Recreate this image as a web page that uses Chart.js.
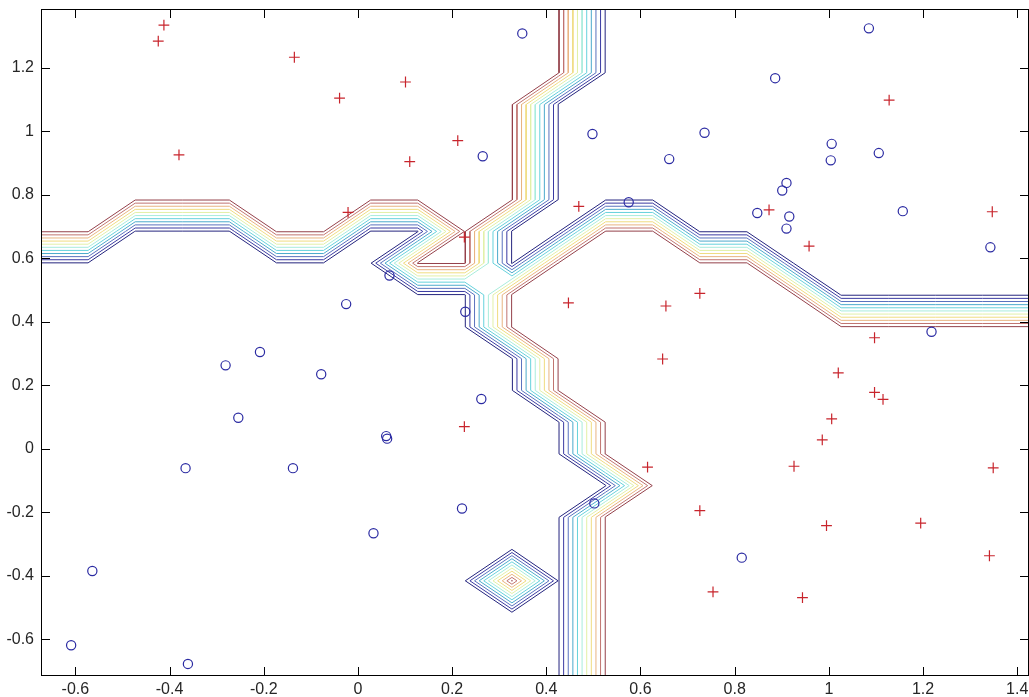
<!DOCTYPE html>
<html>
<head>
<meta charset="utf-8">
<script src="https://cdn.jsdelivr.net/npm/chart.js@4.4.1/dist/chart.umd.min.js"></script>
<style>
  html, body { margin: 0; padding: 0; background: #ffffff; }
  canvas { display: block; }
</style>
</head>
<body>
<canvas id="c" width="1029" height="697"></canvas>
<script>
// ---- axis ticks ----
const xTicks = [-0.6, -0.4, -0.2, 0, 0.2, 0.4, 0.6, 0.8, 1, 1.2, 1.4];
const xTickLabels = ['-0.6', '-0.4', '-0.2', '0', '0.2', '0.4', '0.6', '0.8', '1', '1.2', '1.4'];
const yTicks = [-0.6, -0.4, -0.2, 0, 0.2, 0.4, 0.6, 0.8, 1, 1.2];
const yTickLabels = ['-0.6', '-0.4', '-0.2', '0', '0.2', '0.4', '0.6', '0.8', '1', '1.2'];

// ---- class "+" samples ----
const plusX = [-0.412, -0.424, -0.135, -0.039, -0.380, -0.021, 0.101, 0.212, 0.110, 0.469,
               0.226, 1.128, 0.873, 1.347, 0.958, 0.726, 1.097, 1.020, 1.097, 1.115,
               1.006, 0.986, 0.926, 1.349, 0.447, 0.654, 0.647, 0.226, 0.615, 0.726,
               0.995, 1.195, 1.341, 0.754, 0.944];
const plusY = [1.335, 1.285, 1.234, 1.105, 0.926, 0.745, 1.156, 0.971, 0.905, 0.764,
               0.667, 1.099, 0.753, 0.747, 0.639, 0.490, 0.350, 0.239, 0.178, 0.156,
               0.094, 0.028, -0.055, -0.060, 0.460, 0.450, 0.283, 0.070, -0.058, -0.195,
               -0.242, -0.234, -0.337, -0.451, -0.469];

// ---- class "o" samples ----
const circX = [0.349, 0.265, 0.498, 0.661, 0.575, 1.085, 0.886, 0.736, 1.006, 1.004,
               1.106, 0.910, 0.901, 0.848, 0.916, 0.910, 1.157, 1.343, 1.218, 0.067,
               -0.025, 0.228, 0.262, 0.060, 0.062, -0.281, -0.208, -0.078, -0.254, -0.366,
               -0.138, -0.564, -0.609, -0.361, 0.221, 0.033, 0.502, 0.815];
const circY = [1.309, 0.922, 0.992, 0.913, 0.777, 1.325, 1.168, 0.996, 0.961, 0.909,
               0.932, 0.838, 0.814, 0.743, 0.732, 0.694, 0.749, 0.635, 0.369, 0.546,
               0.456, 0.432, 0.157, 0.040, 0.032, 0.263, 0.305, 0.235, 0.098, -0.061,
               -0.061, -0.385, -0.619, -0.678, -0.188, -0.266, -0.172, -0.343];

// ---- classifier output sampled on the evaluation grid ----
const gridX = [-0.673, -0.573, -0.473, -0.373, -0.273, -0.173, -0.073, 0.027, 0.127, 0.227, 0.327,
               0.426, 0.526, 0.626, 0.726, 0.826, 0.926, 1.026, 1.126, 1.226, 1.326, 1.425];
const gridY = [-0.716, -0.616, -0.516, -0.416, -0.316, -0.216, -0.116, -0.016, 0.084, 0.184, 0.284,
               0.384, 0.485, 0.585, 0.685, 0.785, 0.885, 0.985, 1.085, 1.185, 1.285, 1.386];
// one string per grid row, bottom row first; 1 = "+" class, 0 = "o" class
const gridRows = [
  '0000000000001111111111',
  '0000000000001111111111',
  '0000000000001111111111',
  '0000000000101111111111',
  '0000000000001111111111',
  '0000000000001111111111',
  '0000000000000111111111',
  '0000000000001111111111',
  '0000000000001111111111',
  '0000000000011111111111',
  '0000000000011111111111',
  '0000000000111111111111',
  '0000000000111111100000',
  '0000000011011111000000',
  '1100011001001100000000',
  '1111111111100000000000',
  '1111111111100000000000',
  '1111111111100000000000',
  '1111111111100000000000',
  '1111111111110000000000',
  '1111111111110000000000',
  '1111111111110000000000'
];

// ---- contour levels and their colours ----
const contourLevels = [0.01, 0.108, 0.206, 0.304, 0.402, 0.5, 0.598, 0.696, 0.794, 0.892, 0.99];
const contourColors = ['#24247e', '#3a3aa2', '#5a72be', '#4caacc', '#66d2dc', '#a8ecdc',
                       '#e2f0a8', '#f0dc80', '#e8b482', '#c07470', '#94404a'];

const zGrid = gridRows.map(r => r.split('').map(Number));

// Marching squares on the grid, with segments chained into polylines.
function traceLevel(level) {
  const ny = zGrid.length, nx = zGrid[0].length;
  const segs = [];
  const cut = (x1, y1, v1, x2, y2, v2) => {
    const t = (level - v1) / (v2 - v1);
    return { x: x1 + t * (x2 - x1), y: y1 + t * (y2 - y1) };
  };
  for (let j = 0; j < ny - 1; j++) {
    for (let i = 0; i < nx - 1; i++) {
      const a = zGrid[j][i], b = zGrid[j][i + 1], c = zGrid[j + 1][i + 1], d = zGrid[j + 1][i];
      const edges = {
        B: { key: 'h' + i + '_' + j, cross: (a > level) !== (b > level),
             p: () => cut(gridX[i], gridY[j], a, gridX[i + 1], gridY[j], b) },
        R: { key: 'v' + (i + 1) + '_' + j, cross: (b > level) !== (c > level),
             p: () => cut(gridX[i + 1], gridY[j], b, gridX[i + 1], gridY[j + 1], c) },
        T: { key: 'h' + i + '_' + (j + 1), cross: (d > level) !== (c > level),
             p: () => cut(gridX[i], gridY[j + 1], d, gridX[i + 1], gridY[j + 1], c) },
        L: { key: 'v' + i + '_' + j, cross: (a > level) !== (d > level),
             p: () => cut(gridX[i], gridY[j], a, gridX[i], gridY[j + 1], d) }
      };
      const crossed = ['B', 'R', 'T', 'L'].filter(k => edges[k].cross);
      let pairs;
      if (crossed.length === 2) {
        pairs = [crossed];
      } else if (crossed.length === 4) {
        // saddle: decide by the cell centre value
        const centre = (a + b + c + d) / 4;
        if ((centre > level) === (a > level)) pairs = [['B', 'R'], ['T', 'L']];
        else pairs = [['L', 'B'], ['R', 'T']];
      } else {
        continue;
      }
      pairs.forEach(([e1, e2]) => {
        segs.push([
          Object.assign({ key: edges[e1].key }, edges[e1].p()),
          Object.assign({ key: edges[e2].key }, edges[e2].p())
        ]);
      });
    }
  }
  const byKey = new Map();
  segs.forEach((s, n) => s.forEach(p => {
    if (!byKey.has(p.key)) byKey.set(p.key, []);
    byKey.get(p.key).push(n);
  }));
  const used = new Array(segs.length).fill(false);
  const follow = (line, start) => {
    let cur = start;
    for (;;) {
      const next = (byKey.get(cur.key) || []).find(m => !used[m]);
      if (next === undefined) break;
      used[next] = true;
      const s = segs[next];
      const far = s[0].key === cur.key ? s[1] : s[0];
      line.push(far);
      cur = far;
    }
  };
  const data = [];
  for (let n = 0; n < segs.length; n++) {
    if (used[n]) continue;
    used[n] = true;
    const fwd = [segs[n][0], segs[n][1]];
    follow(fwd, segs[n][1]);
    const back = [segs[n][0]];
    follow(back, segs[n][0]);
    const line = back.reverse().concat(fwd.slice(1));
    line.forEach(p => data.push({ x: p.x, y: p.y }));
    data.push({ x: line[line.length - 1].x, y: null });
  }
  return data;
}

const contourSets = contourLevels.map((lv, k) => ({
  data: traceLevel(lv),
  showLine: true,
  spanGaps: false,
  borderColor: contourColors[k],
  borderWidth: 1,
  pointRadius: 0,
  pointHoverRadius: 0,
  pointHitRadius: 0,
  tension: 0,
  order: 2
}));

const plusSet = {
  data: plusX.map((x, n) => ({ x, y: plusY[n] })),
  showLine: false,
  pointStyle: 'cross',
  pointRadius: 5.4,
  borderColor: '#c8242c',
  backgroundColor: 'rgba(0,0,0,0)',
  pointBorderWidth: 1.2,
  order: 1
};
const circSet = {
  data: circX.map((x, n) => ({ x, y: circY[n] })),
  showLine: false,
  pointStyle: 'circle',
  pointRadius: 4.6,
  borderColor: '#2a2aa2',
  backgroundColor: 'rgba(0,0,0,0)',
  pointBorderWidth: 1.2,
  order: 1
};

// Box around the axes with inward tick marks on all four sides
const axesBox = {
  id: 'axesBox',
  afterDatasetsDraw(chart) {
    const { ctx, chartArea: a, scales } = chart;
    const len = 9;
    ctx.save();
    ctx.strokeStyle = '#000000';
    ctx.lineWidth = 1;
    ctx.strokeRect(a.left + 0.5, a.top + 0.5, a.right - a.left - 1, a.bottom - a.top - 1);
    ctx.beginPath();
    xTicks.forEach(v => {
      const px = Math.round(scales.x.getPixelForValue(v)) + 0.5;
      ctx.moveTo(px, a.bottom); ctx.lineTo(px, a.bottom - len);
      ctx.moveTo(px, a.top); ctx.lineTo(px, a.top + len);
    });
    yTicks.forEach(v => {
      const py = Math.round(scales.y.getPixelForValue(v)) + 0.5;
      ctx.moveTo(a.left, py); ctx.lineTo(a.left + len, py);
      ctx.moveTo(a.right, py); ctx.lineTo(a.right - len, py);
    });
    ctx.stroke();
    ctx.restore();
  }
};

const tickFont = { family: '"Liberation Sans", Arial, sans-serif', size: 16 };

new Chart(document.getElementById('c'), {
  type: 'scatter',
  data: { datasets: [plusSet, circSet].concat(contourSets) },
  options: {
    responsive: false,
    devicePixelRatio: 1,
    animation: false,
    events: [],
    layout: { autoPadding: false, padding: { top: 9, right: 0, left: 0, bottom: 0 } },
    plugins: { legend: { display: false }, tooltip: { enabled: false } },
    scales: {
      x: {
        type: 'linear',
        min: -0.673,
        max: 1.425,
        grid: { display: false, drawTicks: false },
        border: { display: false },
        afterBuildTicks: s => { s.ticks = xTicks.map(v => ({ value: v })); },
        afterFit: s => { s.height = 21; s.paddingLeft = 0; s.paddingRight = 0; },
        ticks: {
          autoSkip: false, maxRotation: 0, padding: 4,
          color: '#262626', font: tickFont,
          callback: v => xTickLabels[xTicks.findIndex(t => Math.abs(t - v) < 1e-9)]
        }
      },
      y: {
        type: 'linear',
        min: -0.716,
        max: 1.386,
        grid: { display: false, drawTicks: false },
        border: { display: false },
        afterBuildTicks: s => { s.ticks = yTicks.map(v => ({ value: v })); },
        afterFit: s => { s.width = 41; s.paddingTop = 0; s.paddingBottom = 0; },
        ticks: {
          autoSkip: false, padding: 7,
          color: '#262626', font: tickFont,
          callback: v => yTickLabels[yTicks.findIndex(t => Math.abs(t - v) < 1e-9)]
        }
      }
    }
  },
  plugins: [axesBox]
});
</script>
</body>
</html>
